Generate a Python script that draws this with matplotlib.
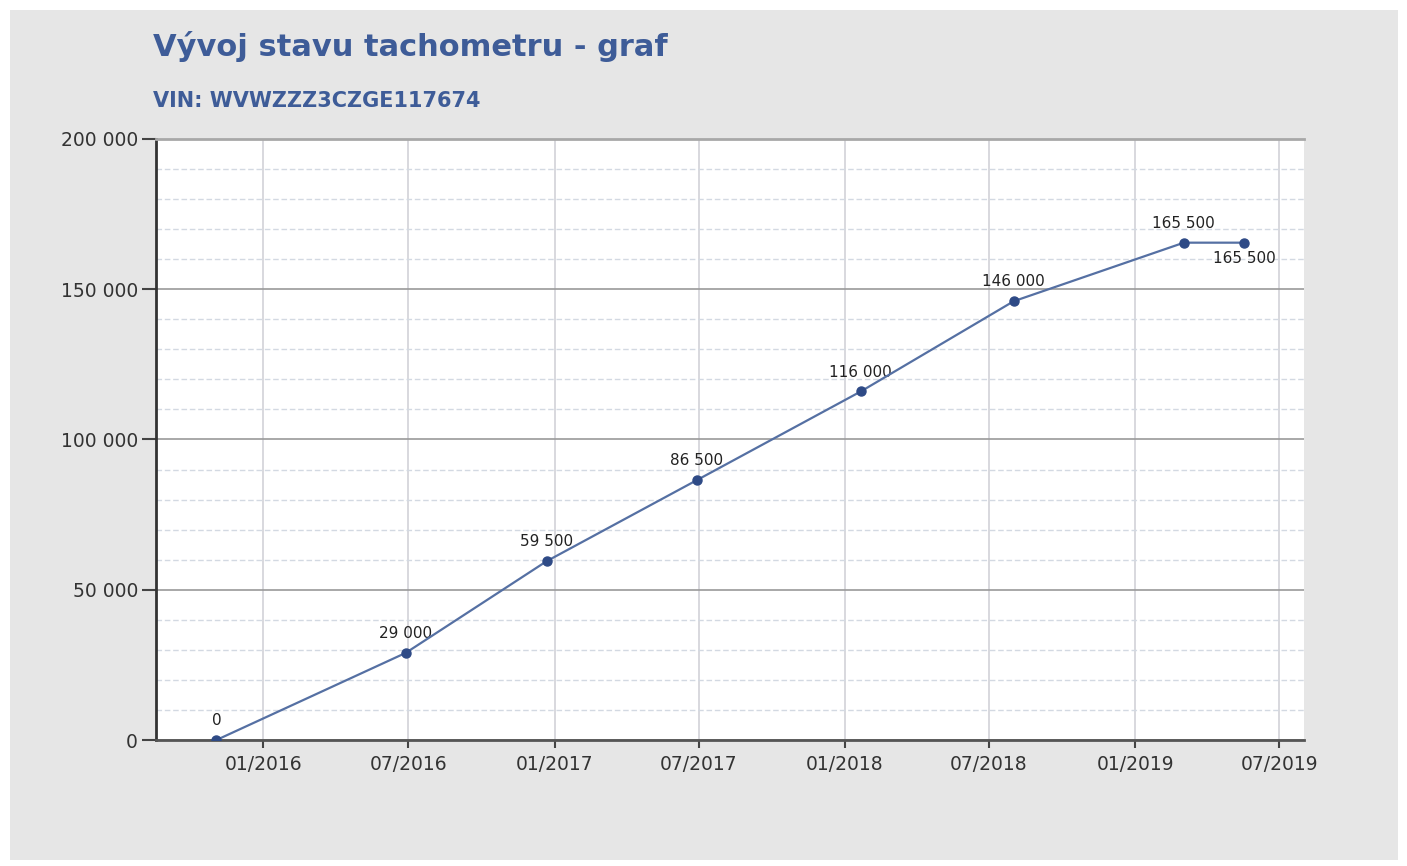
import datetime as dt
import matplotlib
matplotlib.use("Agg")
import matplotlib.pyplot as plt
import matplotlib.dates as mdates
from matplotlib.patches import Rectangle
from matplotlib.ticker import MultipleLocator, FuncFormatter

# odometer readings
dates = ["2015-11-03", "2016-06-28", "2016-12-22", "2017-06-29",
         "2018-01-21", "2018-08-01", "2019-03-03", "2019-05-18"]
km = [0, 29000, 59500, 86500, 116000, 146000, 165500, 165500]

title = "Vývoj stavu tachometru - graf"
subtitle = "VIN: WVWZZZ3CZGE117674"

x = [dt.datetime.strptime(d, "%Y-%m-%d") for d in dates]


def thousands(v, pos=None):
    return f"{int(v):,}".replace(",", " ")


plt.rcParams['font.family'] = ['DejaVu Sans']

fig = plt.figure(figsize=(14.07, 8.66), dpi=100, facecolor="white")
# grey panel inside a thin white border
fig.patches.append(Rectangle((10 / 1407, 6 / 866), 1388 / 1407, 850 / 866,
                             transform=fig.transFigure, facecolor="#E6E6E6",
                             edgecolor="none", zorder=-10))

ax = fig.add_axes([156 / 1407, 1 - 740 / 866, 1148 / 1407, 601 / 866])
ax.set_facecolor("white")

blue = "#3E5C98"
ax.plot(x, km, color="#5570A3", linewidth=1.6, marker="o", markersize=6.5,
        markerfacecolor="#2E4A86", markeredgecolor="#2E4A86", zorder=5)

for i, (d, v) in enumerate(zip(x, km)):
    if i == len(km) - 1:
        ax.annotate(thousands(v), (d, v), xytext=(0, -6), textcoords="offset points",
                    ha="center", va="top", fontsize=11, color="#222222")
    else:
        ax.annotate(thousands(v), (d, v), xytext=(0, 8.5), textcoords="offset points",
                    ha="center", va="bottom", fontsize=11, color="#222222")

ax.set_ylim(0, 200000)
ax.set_xlim(dt.datetime(2015, 8, 19), dt.datetime(2019, 8, 1))
ax.yaxis.set_major_locator(MultipleLocator(50000))
ax.yaxis.set_minor_locator(MultipleLocator(10000))
ax.yaxis.set_major_formatter(FuncFormatter(thousands))
ax.xaxis.set_major_locator(mdates.MonthLocator(bymonth=[1, 7]))
ax.xaxis.set_major_formatter(mdates.DateFormatter("%m/%Y"))

ax.grid(axis="y", which="major", color="#9A9A9A", linewidth=1.2)
ax.grid(axis="y", which="minor", color="#D3D9E2", linewidth=1.0, linestyle=(0, (4, 2)))
ax.grid(axis="x", which="major", color="#D8D8DE", linewidth=1.4)
ax.set_axisbelow(True)

ax.tick_params(axis="y", which="major", length=10, width=1.5, color="#444444",
               labelsize=13.5, labelcolor="#333333", pad=3)
ax.tick_params(axis="y", which="minor", length=0)
ax.tick_params(axis="x", length=6, width=1.5, color="#444444",
               labelsize=13.5, labelcolor="#333333", pad=5)

ax.spines["left"].set_color("#333333")
ax.spines["left"].set_linewidth(2)
ax.spines["bottom"].set_color("#555555")
ax.spines["bottom"].set_linewidth(2)
ax.spines["top"].set_color("#A8A8A8")
ax.spines["top"].set_linewidth(2)
ax.spines["right"].set_visible(False)

fig.text(153 / 1407, 1 - 47 / 866, title, fontsize=22, fontweight="bold",
         color=blue, va="center", ha="left")
fig.text(153 / 1407, 1 - 101 / 866, subtitle, fontsize=15, fontweight="bold",
         color=blue, va="center", ha="left")

fig.savefig("out.png", dpi=100, facecolor="white")
